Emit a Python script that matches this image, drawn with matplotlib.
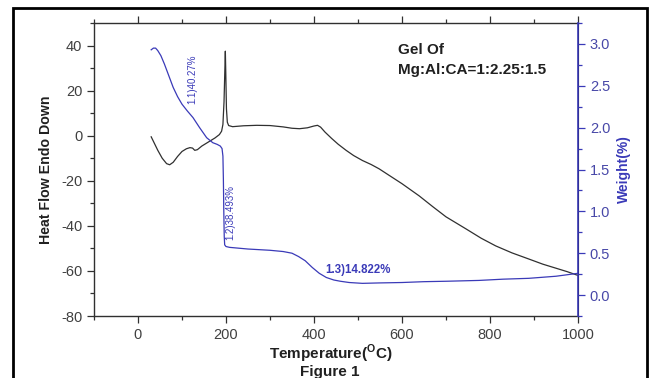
import matplotlib
matplotlib.use("Agg")
import matplotlib.pyplot as plt
from matplotlib.ticker import MultipleLocator
from matplotlib.patches import Rectangle

plt.rcParams['font.family'] = ['Liberation Sans', 'DejaVu Sans']
plt.rcParams['mathtext.fontset'] = 'custom'
plt.rcParams['mathtext.rm'] = 'Liberation Sans:bold'
plt.rcParams['mathtext.bf'] = 'Liberation Sans:bold'
plt.rcParams['axes.unicode_minus'] = False

# DSC heat flow curve (left axis)
dsc_temp = [30, 35, 45, 55, 65, 72, 80, 90, 100, 110, 118, 124, 129, 135, 145,
            160, 175, 185, 190, 193, 195.5, 197.5, 198.5, 199.5, 201, 203, 206,
            215, 240, 270, 300, 330, 350, 367, 385, 400, 408, 415, 425, 440,
            455, 473, 490, 510, 530, 548, 570, 600, 639, 670, 700, 745, 780,
            813, 850, 888, 920, 950, 975, 1000]
dsc_flow = [-0.5, -2.5, -6.5, -10, -12.4, -12.9, -11.8, -9.2, -7.0, -5.8, -5.3,
            -5.5, -6.5, -6.2, -4.6, -2.8, -1.0, 0.5, 2.0, 5, 15, 30, 37.5, 28,
            12, 6, 4.5, 4.0, 4.4, 4.6, 4.5, 3.9, 3.3, 3.1, 3.5, 4.3, 4.6, 3.8,
            1.6, -1.2, -3.8, -6.5, -8.8, -11.0, -12.8, -14.7, -17.5, -21.3,
            -26.7, -31.5, -36.0, -41.3, -45.5, -48.9, -52.0, -54.7, -57.0,
            -58.8, -60.3, -62]

# TGA weight curve (right axis)
tga_temp = [30, 35, 40, 45, 52, 60, 70, 80, 90, 100, 112, 125, 140, 156, 170,
            180, 187, 191, 193, 194, 195, 196, 197, 200, 208, 250, 300, 330,
            350, 365, 380, 396, 412, 428, 445, 460, 480, 510, 548, 600, 650,
            700, 775, 830, 888, 950, 1000]
tga_weight = [2.93, 2.95, 2.95, 2.92, 2.86, 2.76, 2.62, 2.48, 2.37, 2.28, 2.20,
              2.12, 2.00, 1.88, 1.82, 1.80, 1.78, 1.75, 1.66, 1.4, 1.0, 0.7,
              0.6, 0.58, 0.57, 0.55, 0.535, 0.52, 0.5, 0.46, 0.41, 0.33, 0.26,
              0.21, 0.18, 0.165, 0.15, 0.14, 0.145, 0.15, 0.16, 0.165, 0.175,
              0.19, 0.2, 0.225, 0.26]

blue = '#3a3ab8'
dark = '#303030'

fig = plt.figure(figsize=(6.53, 3.78), dpi=100)
W, H = 653, 378
ax = fig.add_axes([94 / W, 1 - 316 / H, (578 - 94) / W, (316 - 23) / H])
ax2 = ax.twinx()

ax.plot(dsc_temp, dsc_flow, color=dark, lw=0.9)
ax2.plot(tga_temp, tga_weight, color=blue, lw=0.9)

ax.set_xlim(-100, 1000)
ax.set_ylim(-80, 50)
ax2.set_ylim(-0.25, 3.25)

ax.xaxis.set_major_locator(MultipleLocator(200))
ax.xaxis.set_minor_locator(MultipleLocator(100))
ax.yaxis.set_minor_locator(MultipleLocator(10))
ax2.yaxis.set_minor_locator(MultipleLocator(0.25))

ax.set_yticks([-80, -60, -40, -20, 0, 20, 40])
ax.tick_params(axis='both', which='both', direction='out', colors=dark,
               labelsize=10.5, labelcolor='#404040', width=0.9)
ax.tick_params(axis='x', which='both', top=True)
ax.tick_params(which='major', length=5)
ax.tick_params(which='minor', length=3)
ax2.set_yticks([0.0, 0.5, 1.0, 1.5, 2.0, 2.5, 3.0])
ax2.yaxis.set_major_formatter(plt.FuncFormatter(lambda v, p: f"{v:.1f}"))
ax2.tick_params(axis='y', which='both', direction='out', colors=blue,
                labelsize=10.5, labelcolor='#4848a8', width=0.9)
ax2.tick_params(which='major', length=5)
ax2.tick_params(which='minor', length=3)

for s in ['left', 'bottom', 'top']:
    ax.spines[s].set_color(dark)
    ax.spines[s].set_linewidth(1.0)
ax2.spines['right'].set_color(blue)
ax2.spines['right'].set_linewidth(1.2)
for s in ['left', 'bottom', 'top']:
    ax2.spines[s].set_visible(False)

ax.set_ylabel('Heat Flow Endo Down', fontsize=10.2, fontweight='bold',
              color='#202020', labelpad=6)
ax2.set_ylabel('Weight(%)', fontsize=10, fontweight='bold', color=blue, labelpad=5)

fig.text(331 / W, 1 - 359 / H, r'Temperature($^{\mathrm{O}}$C)', fontsize=11,
         fontweight='bold', color='#202020', ha='center', va='baseline')
fig.text(330 / W, 1 - 376 / H, 'Figure 1', fontsize=11, fontweight='bold',
         color='#202020', ha='center', va='baseline')

ax.text(398 / W, 1 - 50 / H, 'Gel Of', transform=fig.transFigure, fontsize=11,
        fontweight='bold', color='#202020', ha='left', va='center')
ax.text(398 / W, 1 - 70 / H, 'Mg:Al:CA=1:2.25:1.5', transform=fig.transFigure,
        fontsize=11, fontweight='bold', color='#202020', ha='left', va='center')

ax.text(192 / W, 1 - 79 / H, '1.1)40.27%', transform=fig.transFigure, fontsize=7,
        color=blue, rotation=90, ha='center', va='center')
ax.text(230 / W, 1 - 212 / H, '1.2)38.493%', transform=fig.transFigure, fontsize=7,
        color=blue, rotation=90, ha='center', va='center')
ax.text(358 / W, 1 - 270 / H, '1.3)14.822%', transform=fig.transFigure, fontsize=8.3,
        fontweight='bold', color=blue, ha='center', va='center')

# outer frame
fig.patches.append(Rectangle((13 / W, -0.01), (647 - 13) / W, 1 - 8 / H + 0.01,
                             transform=fig.transFigure, fill=False,
                             edgecolor='black', lw=2.0))

fig.savefig('out.png', dpi=100)
